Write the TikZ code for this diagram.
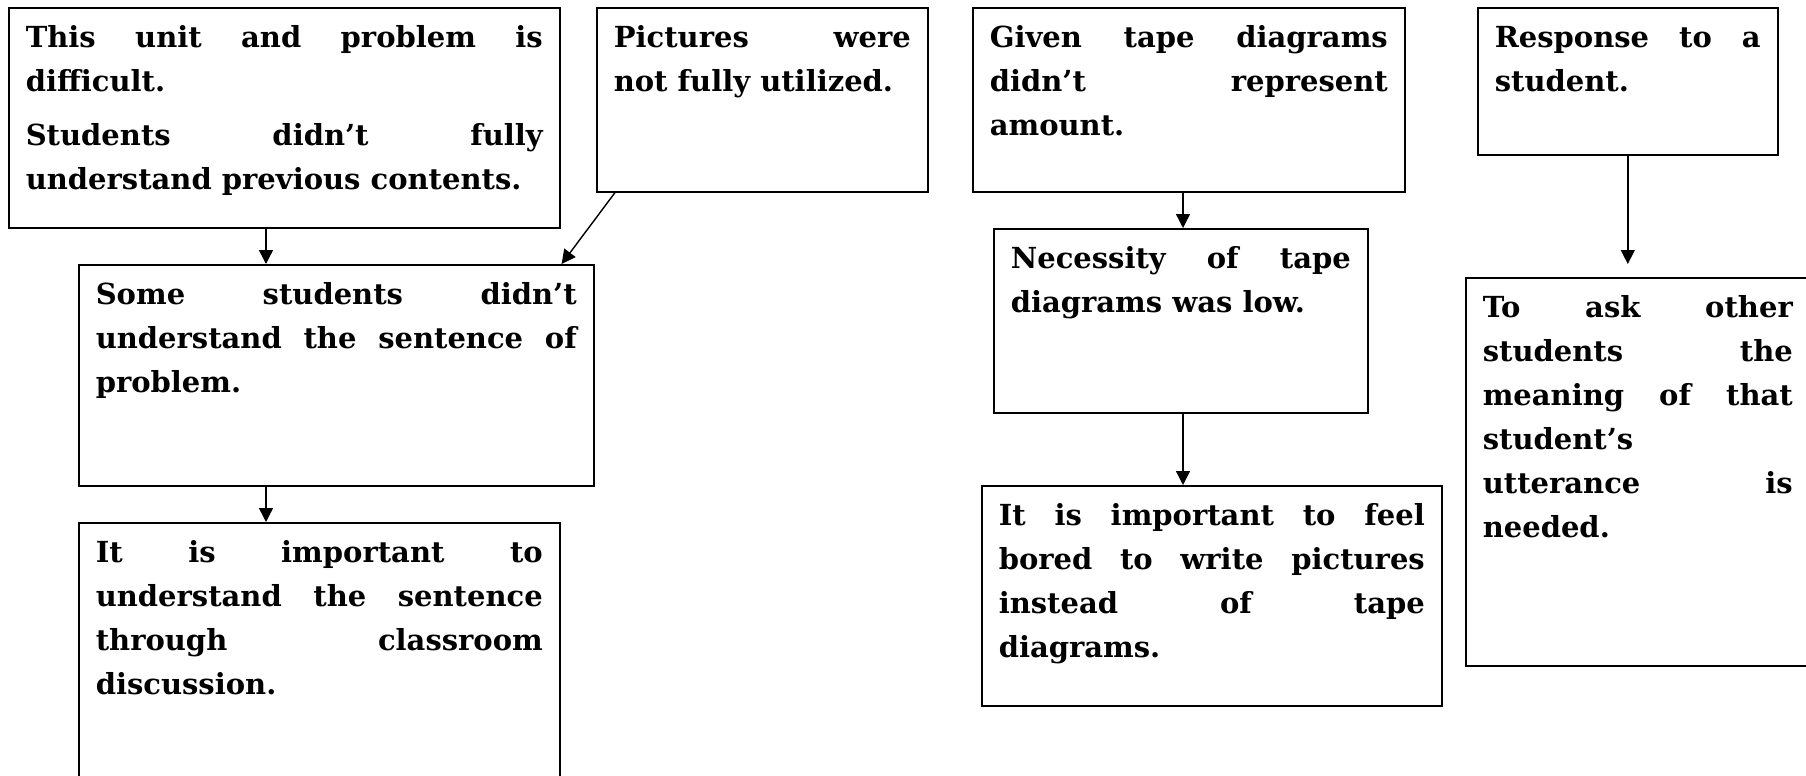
\documentclass[tikz,border=0pt]{standalone}
\usepackage{fontspec}
\setmainfont{DejaVu Serif}
\usetikzlibrary{arrows.meta}

\begin{document}
\begin{tikzpicture}[x=0.5pt,y=-0.5pt,
  card/.style 2 args={draw, line width=0.8pt, anchor=north west,
    inner xsep=8.5pt, inner ysep=6pt, text width=#1, align=justify,
    text height=14pt, text depth=#2,
    font=\fontsize{14.5}{22}\selectfont\bfseries},
  arr/.style={-{Triangle[length=7pt,width=7pt]}, line width=0.7pt}]
\useasboundingbox (0,0) rectangle (1806,776);
\clip (0,0) rectangle (1806,776);

% left group
\node[card={258.5pt}{84pt}] (unit) at (8,7)
  {This unit and problem is\linebreak difficult.\par\vspace{5pt}%
   Students didn’t fully\linebreak understand previous contents.};
\node[card={148.5pt}{66pt}] (pics) at (596,7)
  {Pictures were\linebreak not fully utilized.};
\node[card={240.5pt}{84.5pt}] (some) at (78,264)
  {Some students didn’t\linebreak understand the sentence of\linebreak problem.};
\node[card={223.5pt}{113pt}] (disc) at (78,522)
  {It is important to\linebreak understand the sentence\linebreak through classroom\linebreak discussion.};

\coordinate (lx) at (266,0);
\draw[arr] (unit.south -| lx) -- (some.north -| lx);
\draw[arr] ([xshift=9.5pt]pics.south west) -- ([xshift=-16.5pt]some.north east);
\draw[arr] (some.south -| lx) -- (disc.north -| lx);

% middle group
\node[card={199pt}{66pt}] (tape) at (972,7)
  {Given tape diagrams\linebreak didn’t represent\linebreak amount.};
\node[card={170pt}{66pt}] (need) at (993,228)
  {Necessity of tape\linebreak diagrams was low.};
\node[card={213pt}{84pt}] (bore) at (981,485)
  {It is important to feel\linebreak bored to write pictures\linebreak instead of tape\linebreak diagrams.};

\coordinate (mx) at (1183,0);
\draw[arr] (tape.south -| mx) -- (need.north -| mx);
\draw[arr] (need.south -| mx) -- (bore.north -| mx);

% right group
\node[card={133pt}{47.5pt}] (resp) at (1477,7)
  {Response to a\linebreak student.};
\node[card={155pt}{168pt}] (ask) at (1465,277)
  {To ask other\linebreak students the\linebreak meaning of that\linebreak student’s\linebreak utterance is\linebreak needed.};

\draw[arr] (resp.south) -- ([yshift=6.5pt]ask.north -| resp.south);
\end{tikzpicture}
\end{document}
